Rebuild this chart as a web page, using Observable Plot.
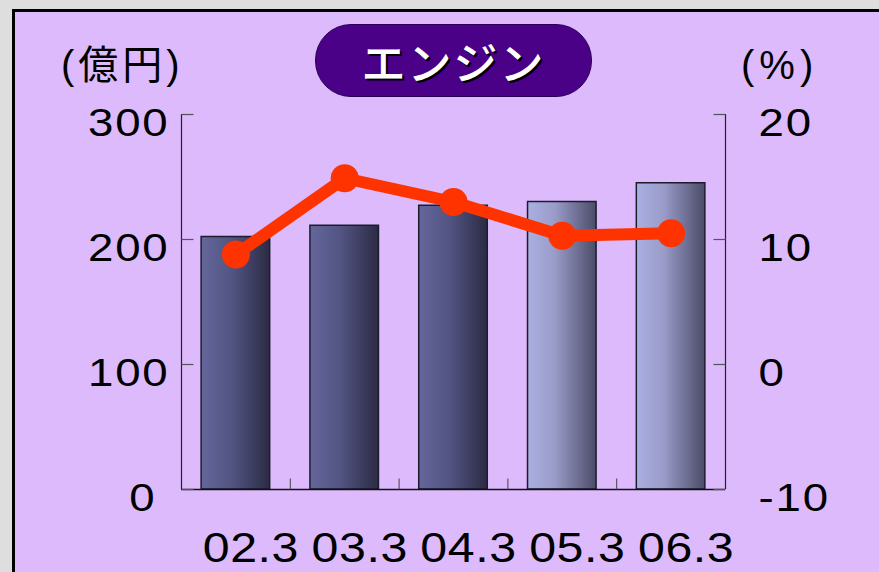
<!DOCTYPE html>
<html>
<head>
<meta charset="utf-8">
<script src="https://cdn.jsdelivr.net/npm/d3@7"></script>
<script src="https://cdn.jsdelivr.net/npm/@observablehq/plot@0.6"></script>
<style>
  html, body { margin: 0; padding: 0; width: 879px; height: 572px; overflow: hidden; background: #dedede; }
  #panel { position: absolute; left: 12px; top: 9px; width: 900px; height: 600px; border-left: 3px solid #000; border-top: 3px solid #000; background: #dcbafc; }
  #chart { position: absolute; left: 0; top: 0; }
  .lbl { position: absolute; font-family: "Liberation Sans", Arial, "Noto Sans CJK JP", sans-serif; font-size: 40px; color: #000; line-height: 1; white-space: nowrap; }
  #pill { position: absolute; left: 315px; top: 24px; width: 277px; height: 73px; border-radius: 36px / 36px; background: #4b0088; border: 1px solid #2a0050; box-sizing: border-box; display: flex; align-items: center; justify-content: center; }
  #pill span { font-family: "Noto Sans CJK JP", sans-serif; font-weight: 500; font-size: 44px; color: #fff; text-shadow: 2px 2px 0 #000; letter-spacing: 2px; }
</style>
</head>
<body>
<div id="panel"></div>
<div id="chart"></div>
<div class="lbl" id="unitL" style="left:61px; top:45px; letter-spacing:4px;">(億円)</div>
<div class="lbl" id="unitR" style="left:741px; top:45px; letter-spacing:5px;">(%)</div>
<div id="pill"><span>エンジン</span></div>
<script>
// ---- data ----
const categories = ["02.3", "03.3", "04.3", "05.3", "06.3"];
const sales = [202, 211, 227, 230, 245];          // 億円 (bars, left axis)
const margin = [8.8, 14.9, 13.0, 10.3, 10.5];     // % (line, right axis)
const barKind = ["actual", "actual", "actual", "plan", "plan"];
const leftTicks = [0, 100, 200, 300];
const rightTicks = [-10, 0, 10, 20];

// right axis maps -10..20 % onto 0..300 of the shared y scale
const pctToY = p => (p + 10) * 10;

const rows = categories.map((c, i) => ({cat: c, sales: sales[i], pct: margin[i], y2: pctToY(margin[i]), kind: barKind[i]}));

const W = 879, H = 572;
const mL = 181, mR = 154, mT = 114, mB = 83;
const step = (W - mL - mR) / categories.length;
const font = '"Liberation Sans", Arial, sans-serif';

const hTick = {draw(ctx) { ctx.moveTo(0, 0); ctx.lineTo(12, 0); }};
const hTickL = {draw(ctx) { ctx.moveTo(0, 0); ctx.lineTo(-12, 0); }};
const vTick = {draw(ctx) { ctx.moveTo(0, 0); ctx.lineTo(0, -11); }};

const plot = Plot.plot({
  width: W,
  height: H,
  marginLeft: mL,
  marginRight: mR,
  marginTop: mT,
  marginBottom: mB,
  style: {background: "transparent", fontFamily: font, overflow: "visible"},
  x: {type: "band", domain: categories, paddingInner: 0.37, paddingOuter: 0.185, round: false, axis: null},
  y: {domain: [0, 300], axis: null},
  marks: [
    Plot.barY(rows.filter(d => d.kind === "actual"), {x: "cat", y: "sales", fill: "url(#gDark)", stroke: "#1c1c2c", strokeWidth: 1.5}),
    Plot.barY(rows.filter(d => d.kind === "plan"), {x: "cat", y: "sales", fill: "url(#gLight)", stroke: "#1c1c2c", strokeWidth: 1.5}),
    // axis lines
    Plot.ruleY([0], {stroke: "#111", strokeWidth: 1.5}),
    Plot.ruleX([categories[0]], {y1: 0, y2: 300, dx: -step / 2, stroke: "#222", strokeWidth: 1.2}),
    Plot.ruleX([categories[categories.length - 1]], {y1: 0, y2: 300, dx: step / 2, stroke: "#222", strokeWidth: 1.2}),
    // bottom ticks between categories
    Plot.dot(categories.slice(1), {x: d => d, y: 0, dx: -step / 2, symbol: vTick, stroke: "#444", strokeWidth: 1}),
    // left axis ticks + labels
    Plot.dot(leftTicks, {y: d => d, frameAnchor: "left", symbol: hTick, stroke: "#555", strokeWidth: 1.2}),
    Plot.text(leftTicks.filter(d => d !== 0), {y: d => d, frameAnchor: "left", text: d => String(d), textAnchor: "end", dx: -12, dy: 9, fontSize: 38, fill: "#000"}),
    Plot.text(leftTicks.filter(d => d === 0), {y: d => d, frameAnchor: "left", text: d => String(d), textAnchor: "end", dx: -25, dy: 9, fontSize: 38, fill: "#000"}),
    // right axis ticks + labels
    Plot.dot(rightTicks, {y: pctToY, frameAnchor: "right", symbol: hTickL, stroke: "#555", strokeWidth: 1.2}),
    Plot.text(rightTicks, {y: pctToY, frameAnchor: "right", text: d => String(d), textAnchor: "start", dx: 33, dy: 9, fontSize: 38, fill: "#000"}),
    // x labels
    Plot.text(rows, {x: "cat", frameAnchor: "bottom", dy: 72, dx: 15, text: "cat", fontSize: 42, fill: "#000"}),
    // margin line
    Plot.line(rows, {x: "cat", y: "y2", stroke: "#ff3300", strokeWidth: 12, strokeLinejoin: "round"}),
    Plot.dot(rows, {x: "cat", y: "y2", r: 14, fill: "#ff3300", stroke: "none"})
  ]
});

const svg = d3.select(plot);
// the original lettering is slightly wide: stretch each label horizontally about its anchor
svg.selectAll("text").each(function () {
  const el = d3.select(this);
  const fs = el.attr("font-size") || d3.select(this.parentNode).attr("font-size");
  const isX = String(fs) === "42";
  const sx = isX ? 1.15 : 1.2;
  el.style("letter-spacing", isX ? "0.5px" : "1.5px");
  const t = el.attr("transform");
  if (t) {
    el.attr("transform", `${t} scale(${sx},1)`);
  } else {
    const x = +el.attr("x") || 0, y = +el.attr("y") || 0;
    el.attr("x", 0).attr("y", 0).attr("transform", `translate(${x},${y}) scale(${sx},1)`);
  }
});
const defs = svg.insert("defs", ":first-child");
const g1 = defs.append("linearGradient").attr("id", "gDark").attr("x1", "0").attr("x2", "1").attr("y1", "0").attr("y2", "0");
g1.append("stop").attr("offset", "0%").attr("stop-color", "#65679c");
g1.append("stop").attr("offset", "45%").attr("stop-color", "#525482");
g1.append("stop").attr("offset", "100%").attr("stop-color", "#2b2b44");
const g2 = defs.append("linearGradient").attr("id", "gLight").attr("x1", "0").attr("x2", "1").attr("y1", "0").attr("y2", "0");
g2.append("stop").attr("offset", "0%").attr("stop-color", "#aab0e2");
g2.append("stop").attr("offset", "40%").attr("stop-color", "#9a9bc8");
g2.append("stop").attr("offset", "100%").attr("stop-color", "#4b4c68");

document.getElementById("chart").appendChild(plot);
</script>
</body>
</html>
